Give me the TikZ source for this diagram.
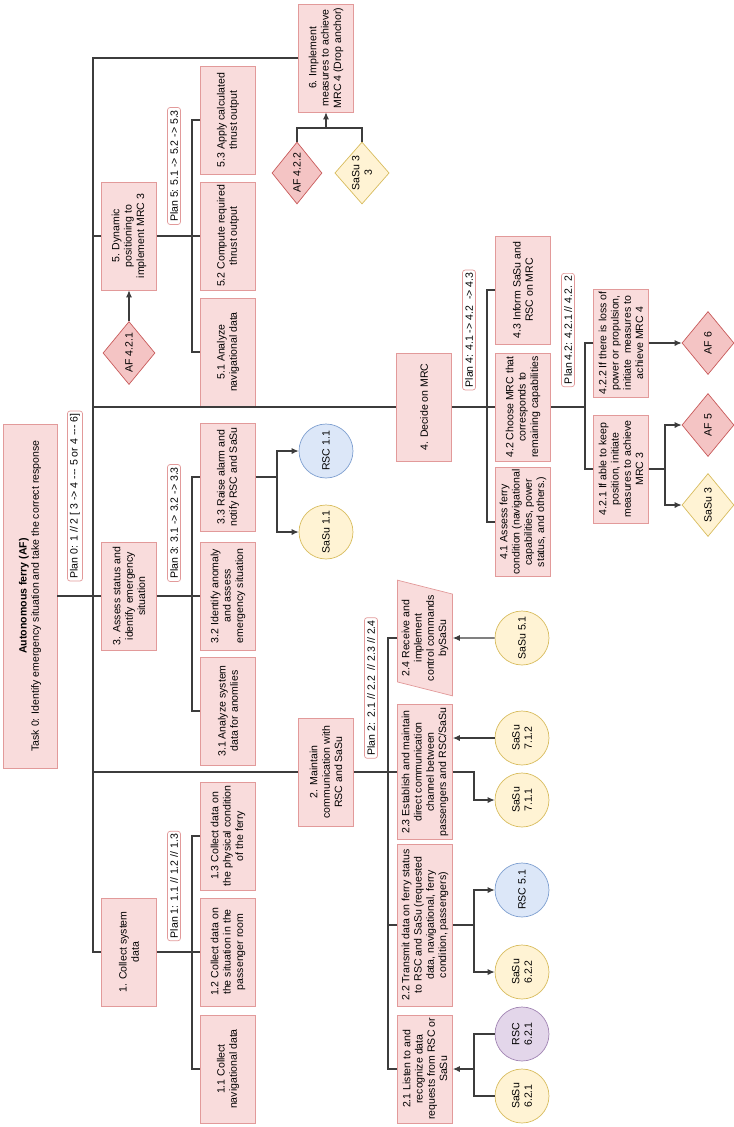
\documentclass[tikz,border=0pt]{standalone}
\usepackage{fontspec}
\setmainfont{Liberation Sans}
\usepackage{xcolor}
\usetikzlibrary{calc}
\usetikzlibrary{arrows.meta,shapes.geometric}
\definecolor{taskfill}{HTML}{F9DCDC}
\definecolor{taskline}{HTML}{E29A9A}
\definecolor{affill}{HTML}{F4C4C4}
\definecolor{afline}{HTML}{C85A5A}
\definecolor{sasufill}{HTML}{FFF3D4}
\definecolor{sasuline}{HTML}{D8BC5E}
\definecolor{rscfill}{HTML}{DCE7F8}
\definecolor{rscline}{HTML}{7E9FD0}
\definecolor{rscpfill}{HTML}{E3D6EA}
\definecolor{rscpline}{HTML}{A184B3}
\definecolor{linegray}{HTML}{3C3C3C}
\tikzset{
	task/.style={rectangle, draw=taskline, fill=taskfill, rotate=90, align=center,
			inner sep=1pt, minimum width=2.16cm, minimum height=1.1cm,
			font=\fontsize{6}{7}\selectfont},
	plan/.style={rectangle, rounded corners=1.5pt, draw=taskline, fill=white, rotate=90,
			inner sep=1.5pt, font=\fontsize{6}{7}\selectfont},
	afdiamond/.style={diamond, draw=afline, fill=affill, rotate=90, inner sep=0pt,
			minimum width=1.26cm, minimum height=1.04cm, align=center,
			font=\fontsize{6}{7}\selectfont},
	sasudiamond/.style={afdiamond, draw=sasuline, fill=sasufill},
	sasucircle/.style={circle, draw=sasuline, fill=sasufill, rotate=90, inner sep=0pt,
			minimum size=1.08cm, align=center, font=\fontsize{6}{7}\selectfont},
	rsccircle/.style={sasucircle, draw=rscline, fill=rscfill},
	conn/.style={draw=linegray, line width=0.6pt},
	arr/.style={conn, -{Latex[length=4pt,width=3.5pt]}}
}

\begin{document}
\begin{tikzpicture}[x=0.02cm, y=-0.02cm]
	\useasboundingbox (0,0) rectangle (734,1127);

	% root and main tasks
	\node[task, minimum width=6.88cm, minimum height=1.08cm] (root) at (30,596)
		{\textbf{Autonomous ferry (AF)}\\Task 0: Identify emergency situation and take the correct response};
	\node[plan] (plan0) at (75,496) {Plan 0: 1 // 2 [ 3 -> 4 -{}-{}- 5 or 4 -{}-{}- 6]};
	\node[task] (t1) at (129,952) {1. Collect system\\data};
	\node[task] (t2) at (326,772) {2. Maintain\\communication with\\RSC and SaSu};
	\node[task] (t3) at (129,596) {3. Assess status and\\identify emergency\\situation};
	\node[task] (t4) at (424,407) {4. Decide on MRC};
	\node[task] (t5) at (129,236) {5. Dynamic\\positioning to\\implement MRC 3};
	\node[task] (t6) at (326,58) {6. Implement\\measures to achieve\\MRC 4 (Drop anchor)};

	% task 1
	\node[plan] (plan1) at (174,886) {Plan 1: 1.1 // 1.2 // 1.3};
	\node[task] (t11) at (228,1069) {1.1 Collect\\navigational data};
	\node[task] (t12) at (228,952) {1.2 Collect data on\\the situation in the\\passenger room};
	\node[task] (t13) at (228,836) {1.3 Collect data on\\the physical condition\\of the ferry};

	% task 2
	\node[plan] (plan2) at (371,688) {Plan 2:\ \ 2.1 // 2.2\ \ // 2.3 // 2.4};
	\node[task] (t21) at (425,1069) {2.1 Listen to and\\recognize data\\requests from RSC or\\SaSu};
	\node[task, minimum width=3.24cm] (t22) at (425,925)
		{2.2 Transmit data on ferry status\\to RSC and SaSu (requested\\data, navigational, ferry\\condition, passengers)};
	\node[task, minimum width=2.7cm] (t23) at (425,772)
		{2.3 Establish and maintain\\direct communication\\channel between\\passengers and RSC/SaSu};
	\node[task, trapezium, trapezium left angle=74, trapezium right angle=106,
		trapezium stretches=true, inner sep=0.5pt] (t24) at (425,638)
		{2.4 Receive and\\implement\\control commands\\bySaSu};

	% task 3
	\node[plan] (plan3) at (174,523) {Plan 3: 3.1 -> 3.2 -> 3.3};
	\node[task] (t31) at (228,711) {3.1 Analyze system\\data for anomlies};
	\node[task] (t32) at (228,596) {3.2 Identify anomaly\\and assess\\emergency situation};
	\node[task] (t33) at (228,477) {3.3 Raise alarm and\\notify RSC and SaSu};

	% task 4
	\node[plan] (plan4) at (469,330) {Plan 4: 4.1 -> 4.2\ \ -> 4.3};
	\node[task] (t41) at (523,522) {4.1 Assess ferry\\condition (navigational\\capabilities, power\\status, and others.)};
	\node[task] (t42) at (523,407) {4.2 Choose MRC that\\corresponds to\\remaining capabilities};
	\node[task] (t43) at (523,290) {4.3 Inform SaSu and\\RSC on MRC};
	\node[plan] (plan42) at (568,330) {Plan 4.2: 4.2.1 // 4.2. 2};
	\node[task] (t421) at (621,469) {4.2.1 If able to keep\\position, initiate\\measures to achieve\\MRC 3};
	\node[task] (t422) at (621,343) {4.2.2 If there is loss of\\power or propulsion,\\initiate\ \ measures to\\achieve MRC 4};

	% task 5
	\node[plan] (plan5) at (174,166) {Plan 5: 5.1 -> 5.2 -> 5.3};
	\node[task] (t51) at (228,352) {5.1 Analyze\\navigational data};
	\node[task] (t52) at (228,236) {5.2 Compute required\\thrust output};
	\node[task] (t53) at (228,120) {5.3 Apply calculated\\thrust output};

	% agents
	\node[rsccircle] (rsc11) at (326,451) {RSC 1.1};
	\node[sasucircle] (sasu11) at (326,532) {SaSu 1.1};
	\node[afdiamond] (af421) at (129,353) {AF 4.2.1};
	\node[afdiamond, minimum width=1.24cm, minimum height=1cm] (af422) at (297,173) {AF 4.2.2};
	\node[sasudiamond, minimum width=1.24cm, minimum height=1cm] (sasu33) at (362,173) {SaSu 3\\3};
	\node[afdiamond] (af6) at (708,343) {AF 6};
	\node[afdiamond] (af5) at (708,425) {AF 5};
	\node[sasudiamond] (sasu3) at (708,505) {SaSu 3};
	\node[sasucircle] (sasu51) at (522,638) {SaSu 5.1};
	\node[sasucircle] (sasu712) at (522,738) {SaSu\\7.1.2};
	\node[sasucircle] (sasu711) at (522,800) {SaSu\\7.1.1};
	\node[rsccircle] (rsc51) at (522,890) {RSC 5.1};
	\node[sasucircle] (sasu622) at (522,972) {SaSu\\6.2.2};
	\node[rsccircle, draw=rscpline, fill=rscpfill] (rsc621) at (522,1034) {RSC\\6.2.1};
	\node[sasucircle] (sasu621) at (522,1096) {SaSu\\6.2.1};

	% hierarchy
	\coordinate (bus) at (93,596);
	\coordinate (s1) at (192,952);
	\coordinate (s2) at (388,772);
	\coordinate (s3) at (192,596);
	\coordinate (s4) at (487,407);
	\coordinate (s42) at (585,407);
	\coordinate (s5) at (192,236);
	\draw[conn] (root) -- (t3);
	\draw[conn] (t6) -| (bus) |- (t1);
	\draw[conn] (bus) |- (t5);
	\draw[conn] (bus) |- (t4);
	\draw[conn] (bus) |- (t2);
	\draw[conn] (t1) -- (t12);
	\draw[conn] (t13) -| (s1) |- (t11);
	\draw[conn] (t2) -- (t23);
	\draw[conn] (t24) -| (s2) |- (t21);
	\draw[conn] (s2) |- (t22);
	\draw[conn] (t3) -- (t32);
	\draw[conn] (t33) -| (s3) |- (t31);
	\draw[conn] (t4) -- (t42);
	\draw[conn] (t43) -| (s4) |- (t41);
	\draw[conn] (t42) -- (s42);
	\draw[conn] (t422) -| (s42) |- (t421);
	\draw[conn] (t5) -- (t52);
	\draw[conn] (t53) -| (s5) |- (t51);

	% agent links
	\coordinate (j33) at (277,477);
	\coordinate (j6) at (326,128);
	\coordinate (j421) at (665,469);
	\coordinate (j23) at (474,772);
	\coordinate (j22) at (474,925);
	\coordinate (j21) at (474,1069);
	\draw[conn] (t33) -- (j33);
	\draw[arr] (j33) |- (rsc11);
	\draw[arr] (j33) |- (sasu11);
	\draw[arr] (af421) -- (t5);
	\draw[conn] (af422) |- (j6);
	\draw[conn] (sasu33) |- (j6);
	\draw[arr] (j6) -- (t6);
	\draw[arr] (t422) -- (af6);
	\draw[conn] (t421) -- (j421);
	\draw[arr] (j421) |- (af5);
	\draw[arr] (j421) |- (sasu3);
	\draw[arr] (sasu51) -- (t24);
	\draw[arr] (sasu712) -- (sasu712 -| t23.south);
	\draw[arr] (t23) -- (j23) |- (sasu711);
	\draw[conn] (t22) -- (j22);
	\draw[arr] (j22) |- (rsc51);
	\draw[arr] (j22) |- (sasu622);
	\draw[conn] (rsc621) -| (j21) |- (sasu621);
	\draw[arr] (j21) -- (t21);
\end{tikzpicture}
\end{document}
